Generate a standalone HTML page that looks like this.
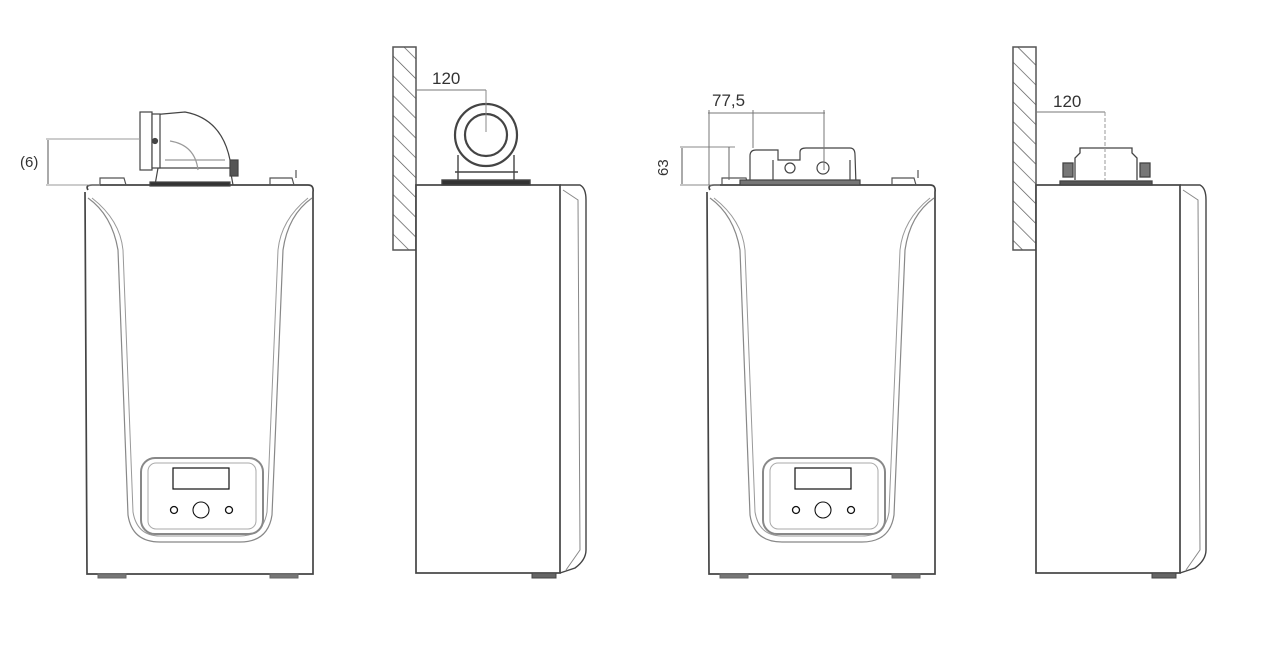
<!DOCTYPE html>
<html><head><meta charset="utf-8"><style>
html,body{margin:0;padding:0;background:#fff;width:1272px;height:658px;overflow:hidden}
svg{display:block}
text{font-family:"Liberation Sans",sans-serif;fill:#333}
</style></head><body>
<svg width="1272" height="658" viewBox="0 0 1272 658" xmlns="http://www.w3.org/2000/svg">
<defs>
<pattern id="h" width="14" height="14" patternUnits="userSpaceOnUse" patternTransform="rotate(-45)">
<line x1="0" y1="0" x2="0" y2="14" stroke="#555" stroke-width="1.4"/></pattern>
<g id="front" fill="none" stroke="#444">
<path d="M88,190 Q85,185 92,185 L308,185 Q314,185 313,192 L313,574 L87,574 L85,192" stroke-width="1.7" fill="#fff"/>
<path d="M88,198 Q112,215 118,250 L128,515 Q132,542 160,542 L240,542 Q268,542 272,515 L283,250 Q288,215 312,198" stroke="#888" stroke-width="1.2"/>
<path d="M92,198 Q120,220 123,250 L133,512 Q137,536 160,536 L240,536 Q263,536 267,512 L278,250 Q281,220 308,198" stroke="#999" stroke-width="1"/>
<rect x="141" y="458" width="122" height="76" rx="14" stroke="#888" stroke-width="2"/>
<rect x="148" y="463" width="108" height="66" rx="8" stroke="#aaa" stroke-width="1"/>
<rect x="173" y="468" width="56" height="21" stroke="#111" stroke-width="1.2"/>
<circle cx="174" cy="510" r="3.5" stroke="#111" stroke-width="1.3"/>
<circle cx="201" cy="510" r="8" stroke="#111" stroke-width="1.1"/>
<circle cx="229" cy="510" r="3.5" stroke="#111" stroke-width="1.3"/>
<rect x="98" y="574" width="28" height="4" fill="#777" stroke="#666"/>
<rect x="270" y="574" width="28" height="4" fill="#777" stroke="#666"/>
<path d="M100,185 L100,178 L124,178 L126,185 M270,185 L270,178 L292,178 L294,185 M296,178 L296,170" stroke="#555" stroke-width="1.2"/>
</g>
<g id="side" fill="none" stroke="#444">
<rect x="416" y="185" width="144" height="388" stroke-width="1.7" fill="#fff"/>
<path d="M560,185 L580,185 Q586,188 586,200 L586,550 Q586,560 575,568 L560,573" stroke-width="1.4"/>
<path d="M563,190 L578,200 L580,550 L566,570" stroke="#888"/>
<rect x="532" y="573" width="24" height="5" fill="#666"/>
</g>
</defs>

<use href="#front"/>
<g fill="none" stroke="#444" stroke-width="1.2">
<path d="M155,185 L158,168 L230,168 L233,185" />
<rect x="150" y="182" width="80" height="4" fill="#333"/>
<path d="M140,116 L185,112 Q228,120 232,175" />
<rect x="140" y="112" width="12" height="58" fill="#fff"/>
<rect x="152" y="114" width="8" height="54" fill="#fff"/>
<circle cx="155" cy="141" r="2.5" fill="#444"/>
<path d="M165,160 L225,160 M170,141 Q195,145 198,170" stroke="#999"/>
<rect x="230" y="160" width="8" height="16" fill="#555"/>
<line x1="46" y1="139" x2="140" y2="139" stroke="#999" stroke-width="1"/>
<line x1="46" y1="185" x2="100" y2="185" stroke="#999" stroke-width="1"/>
<line x1="48" y1="140" x2="48" y2="184" stroke="#555" stroke-width="1"/>
</g>
<text x="20" y="167" font-size="15">(6)</text>

<rect x="393" y="47" width="23" height="203" fill="url(#h)" stroke="#555" stroke-width="1.5"/>
<use href="#side"/>
<g fill="none" stroke="#444" stroke-width="1.4">
<path d="M458,180 L458,155 M514,180 L514,155 M455,172 L518,172"/>
<rect x="442" y="180" width="88" height="5" fill="#333"/>
<circle cx="486" cy="135" r="31" fill="#fff" stroke-width="2.2"/>
<circle cx="486" cy="135" r="21" stroke-width="2.2"/>
<line x1="416" y1="90" x2="486" y2="90" stroke="#777" stroke-width="1"/>
<line x1="486" y1="90" x2="486" y2="132" stroke="#888" stroke-width="1"/>
</g>
<text x="432" y="84" font-size="17">120</text>

<use href="#front" transform="translate(622,0)"/>
<g fill="none" stroke="#444" stroke-width="1.2">
<path d="M750,185 L750,156 Q750,150 756,150 L778,150 L778,160 L800,160 L800,152 Q800,148 806,148 L850,148 Q855,148 855,155 L856,185"/>
<path d="M773,160 L773,183 M850,160 L850,184"/>
<circle cx="790" cy="168" r="5"/>
<circle cx="823" cy="168" r="6"/>
<rect x="740" y="180" width="120" height="5" fill="#777"/>
<line x1="680" y1="147" x2="735" y2="147" stroke="#888" stroke-width="1"/>
<line x1="680" y1="185" x2="720" y2="185" stroke="#888" stroke-width="1"/>
<line x1="682" y1="148" x2="682" y2="184" stroke="#555" stroke-width="1"/>
<line x1="729" y1="147" x2="729" y2="180" stroke="#666" stroke-width="1"/>
<line x1="708" y1="113" x2="825" y2="113" stroke="#777" stroke-width="1"/>
<line x1="709" y1="110" x2="709" y2="185" stroke="#777" stroke-width="1"/>
<line x1="753" y1="110" x2="753" y2="148" stroke="#777" stroke-width="1"/>
<line x1="824" y1="110" x2="824" y2="170" stroke="#777" stroke-width="1"/>
</g>
<text x="712" y="106" font-size="17">77,5</text>
<text x="668" y="176" font-size="15" transform="rotate(-90 668 176)">63</text>

<rect x="1013" y="47" width="23" height="203" fill="url(#h)" stroke="#555" stroke-width="1.5"/>
<use href="#side" transform="translate(620,0)"/>
<g fill="none" stroke="#444" stroke-width="1.3">
<path d="M1075,180 L1075,158 L1080,153 L1080,148 L1132,148 L1132,153 L1137,158 L1137,180"/>
<rect x="1063" y="163" width="10" height="14" fill="#777"/>
<rect x="1140" y="163" width="10" height="14" fill="#777"/>
<rect x="1060" y="181" width="92" height="4" fill="#555"/>
<line x1="1036" y1="112" x2="1105" y2="112" stroke="#777" stroke-width="1"/>
<line x1="1105" y1="112" x2="1105" y2="180" stroke="#999" stroke-width="1" stroke-dasharray="4,2"/>
</g>
<text x="1053" y="107" font-size="17">120</text>
</svg>
</body></html>
